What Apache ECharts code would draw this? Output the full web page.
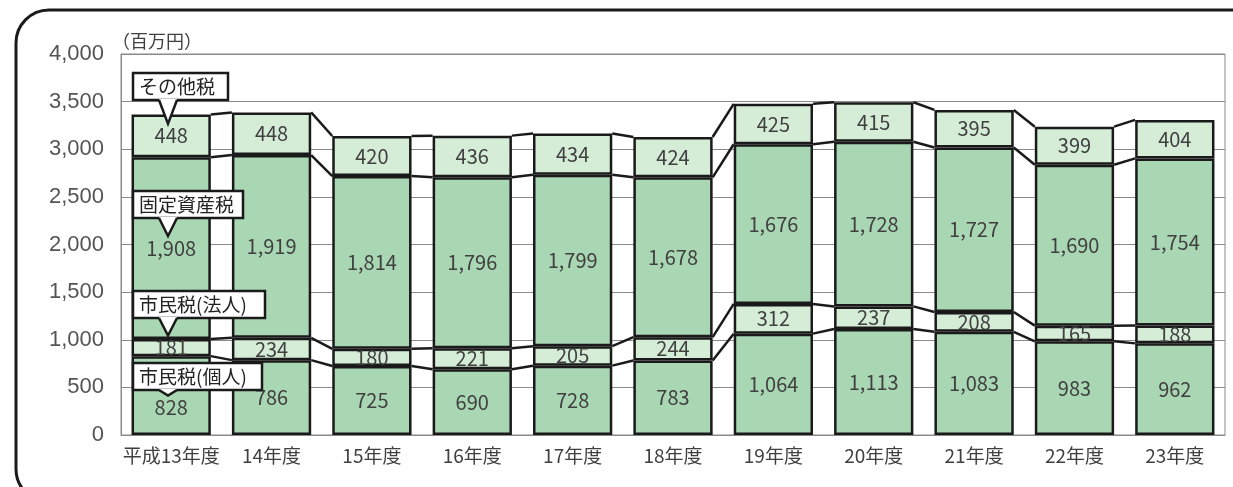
<!DOCTYPE html>
<html><head><meta charset="utf-8">
<script src="https://cdn.jsdelivr.net/npm/echarts@6/dist/echarts.min.js"></script>
<style>html,body{margin:0;padding:0;background:#fff}#c{width:1233px;height:487px}</style>
</head><body><div id="c"></div>
<script>
const categories = ['平成13年度','14年度','15年度','16年度','17年度','18年度','19年度','20年度','21年度','22年度','23年度'];
const kojin  = [828,786,725,690,728,783,1064,1113,1083,983,962];
const hojin  = [181,234,180,221,205,244,312,237,208,165,188];
const kotei  = [1908,1919,1814,1796,1799,1678,1676,1728,1727,1690,1754];
const sonota = [448,448,420,436,434,424,425,415,395,399,404];
const seriesNames = ['市民税(個人)','市民税(法人)','固定資産税','その他税'];
const unitLabel = '（百万円）';

const FONT = '"Noto Sans CJK JP","Noto Sans",sans-serif';
const dark = '#404040';
const green = '#a9d6b3', light = '#d5ecd7';
const barFrac = 0.79;
const values = [kojin, hojin, kotei, sonota];
const colors = [green, light, green, light];

const cum = [];
let run = categories.map(() => 0);
values.forEach(v => { run = run.map((r, i) => r + v[i]); cum.push(run.slice()); });

const connData = [];
for (let i = 0; i < categories.length - 1; i++) {
  const row = [i];
  cum.forEach(c => { row.push(c[i], c[i + 1]); });
  connData.push(row);
}

const fmt = v => Number(v).toLocaleString('en-US');

const chart = echarts.init(document.getElementById('c'));
const series = values.map((v, k) => ({
  name: seriesNames[k], type: 'bar', stack: 'tax', barWidth: (barFrac * 100) + '%',
  data: v.map((x, i) => (k === 0 && i === 0) ? { value: x, label: { offset: [0, 12] } } : x),
  itemStyle: { color: colors[k], borderColor: '#1a1a1a', borderWidth: 2.5 },
  label: { show: true, position: 'inside', color: dark, fontSize: 20, fontFamily: FONT, formatter: p => fmt(p.value) }
}));
series.push({
  type: 'custom', z: 5, silent: true, data: connData,
  encode: { x: 0, y: 1 },
  renderItem: function (params, api) {
    const half = api.size([1, 0])[0] * barFrac / 2;
    const i = api.value(0);
    const children = [];
    for (let k = 0; k < 4; k++) {
      const a = api.coord([i, api.value(1 + 2 * k)]);
      const b = api.coord([i + 1, api.value(2 + 2 * k)]);
      children.push({ type: 'line', shape: { x1: a[0] + half, y1: a[1], x2: b[0] - half, y2: b[1] },
        style: { stroke: '#1a1a1a', lineWidth: 2.5 } });
    }
    return { type: 'group', children };
  }
});

chart.setOption({
  backgroundColor: '#fff',
  animation: false,
  grid: { left: 121, right: 8, top: 54, bottom: 52, show: true, borderColor: '#8a8a8a', borderWidth: 1 },
  xAxis: { type: 'category', data: categories,
    axisLine: { lineStyle: { color: '#8a8a8a' } }, axisTick: { show: false },
    axisLabel: { color: dark, fontSize: 19, fontFamily: FONT, margin: 11, interval: 0 } },
  yAxis: { type: 'value', min: 0, max: 4000, interval: 500,
    axisLine: { show: true, lineStyle: { color: '#8a8a8a' } }, axisTick: { show: false },
    splitLine: { lineStyle: { color: '#8a8a8a', width: 1 } },
    axisLabel: { color: '#555', fontSize: 22, fontFamily: '"Liberation Sans",sans-serif', margin: 17, formatter: v => fmt(v) } },
  series: series
});

// callouts anchored to first bar's segments
const boxes = [
  { top: 363, right: 262 },
  { top: 291, right: 265 },
  { top: 191, right: 243 },
  { top: 73,  right: 228 }
];
const graphics = [];
graphics.push({ type: 'rect', shape: { x: 16, y: 10, width: 1320, height: 492, r: 33 },
  style: { fill: 'none', stroke: '#1a1a1a', lineWidth: 3 }, z: 100 });
graphics.push({ type: 'text', left: 112, top: 32, z: 100,
  style: { text: unitLabel, fill: dark, fontSize: 18, fontFamily: FONT } });
boxes.forEach((b, k) => {
  const lo = k === 0 ? 0 : cum[k - 1][0];
  const mid = chart.convertToPixel({ seriesIndex: 0 }, [0, (lo + cum[k][0]) / 2]);
  const leftPx = chart.convertToPixel({ seriesIndex: 0 }, [0, 0])[0] - chart.getModel().getComponent('xAxis').axis.getBandWidth() * barFrac / 2;
  const bx = Math.round(leftPx) + 1;
  const tipX = bx + 35;
  const tipY = mid[1] - 12 + (k === 0 ? 12 : 0);
  const h = 27;
  const bottom = b.top + h;
  graphics.push({ type: 'rect', z: 110, shape: { x: bx, y: b.top, width: b.right - bx, height: h },
    style: { fill: '#fff', stroke: '#1a1a1a', lineWidth: 2.5 } });
  graphics.push({ type: 'polygon', z: 111, shape: { points: [[tipX - 9, bottom - 1], [tipX, tipY], [tipX + 9, bottom - 1]] },
    style: { fill: '#fff', stroke: null } });
  graphics.push({ type: 'polyline', z: 112, shape: { points: [[tipX - 9, bottom], [tipX, tipY], [tipX + 9, bottom]] },
    style: { fill: null, stroke: '#1a1a1a', lineWidth: 2.5 } });
  graphics.push({ type: 'text', z: 113, x: bx + 6, y: b.top + h / 2,
    style: { text: seriesNames[k], fill: '#222', fontSize: 19, fontFamily: FONT, textVerticalAlign: 'middle', verticalAlign: 'middle' } });
});
chart.setOption({ graphic: graphics });
</script>
</body></html>
